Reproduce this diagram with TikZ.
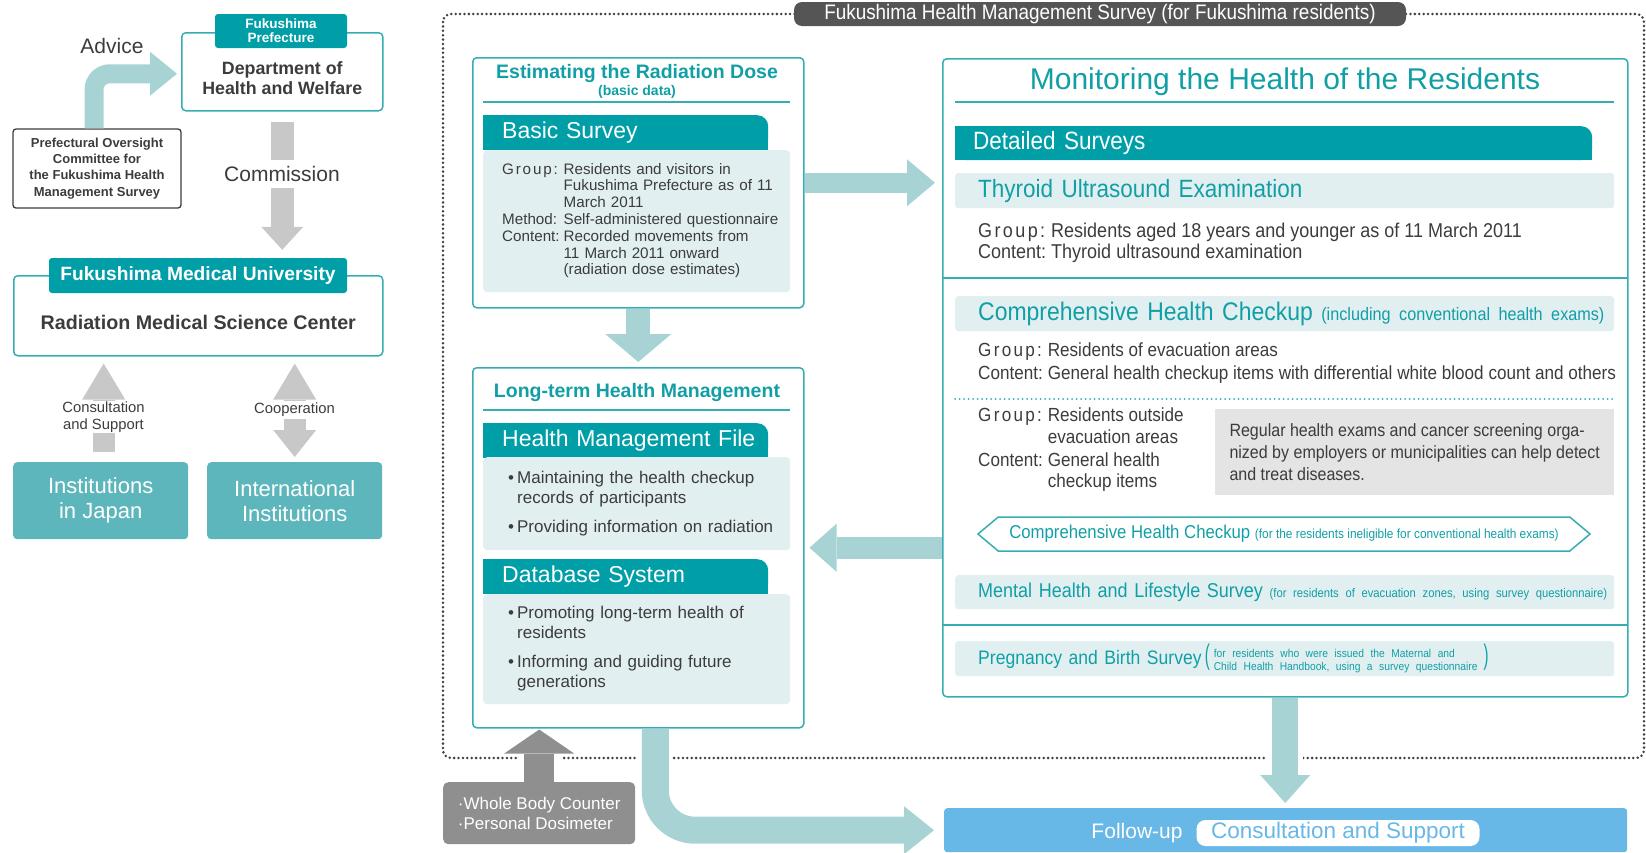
\documentclass[tikz,border=0pt]{standalone}
\usepackage{fontspec}
\usepackage{graphicx}
\setmainfont{Liberation Sans}
\newfontfamily\condfont[FakeStretch=0.9]{Liberation Sans}
\usetikzlibrary{arrows.meta,calc,positioning,shapes.symbols}

\definecolor{tealdark}{HTML}{009FA7}
\definecolor{tealtext}{HTML}{119FA6}
\definecolor{tealline}{HTML}{36ADB3}
\definecolor{teallight}{HTML}{E2EFF1}
\definecolor{tealarrow}{HTML}{A8D3D5}
\definecolor{instfill}{HTML}{5DB6BB}
\definecolor{graylight}{HTML}{C8C8C8}
\definecolor{graydark}{HTML}{8F8F8F}
\definecolor{grayinfo}{HTML}{E4E4E4}
\definecolor{pillgray}{HTML}{555555}
\definecolor{dotgray}{HTML}{404040}
\definecolor{fublue}{HTML}{68B8E7}
\definecolor{textgray}{HTML}{3C3C3C}

\newcommand\fsz[2]{\fontsize{#1pt}{#2pt}\selectfont}
\newcommand\grp{{\addfontfeature{LetterSpace=12}Group:}}
\newcommand\sqcorners[1]{%
  \fill[tealdark] (#1.north west) rectangle ++(11,11);
  \fill[tealdark] (#1.south west) rectangle ++(11,-11);
  \fill[tealdark] (#1.south east) rectangle ++(-11,-11);}

\tikzset{
  frame/.style={draw=tealline, line width=1.5pt, rounded corners=4pt, anchor=north west},
  pilltab/.style={fill=tealdark, rounded corners=3pt, text=white, align=center, inner sep=0pt},
  tabnode/.style={fill=tealdark, rounded corners=11pt, anchor=north west, text=white, align=left,
    inner ysep=0pt, inner xsep=19pt, minimum height=35pt, font=\fsz{23}{26}},
  lightbox/.style={fill=teallight, rounded corners=4pt, anchor=north west, align=left,
    inner xsep=19pt, inner ysep=0pt, text=textgray},
  bar/.style={fill=teallight, rounded corners=3pt, anchor=north west, align=left, inner xsep=23pt,
    inner ysep=0pt, minimum height=35pt, text width=613pt, text=tealtext, font=\condfont\fsz{25}{28}},
  body/.style={anchor=west, inner sep=0pt, text=textgray, font=\condfont\fsz{19}{21}},
  instbox/.style={fill=instfill, rounded corners=4pt, anchor=north west, minimum width=175pt,
    minimum height=77pt, text=white, align=center, font=\fsz{22}{25}},
  softarrow/.style={draw=tealarrow},
  grayarrow/.style={draw=graylight},
  darkarrow/.style={draw=graydark}
}

\begin{document}
\begin{tikzpicture}[x=1pt,y=-1pt]
\useasboundingbox (0,0) rectangle (1646,852);

% survey frame
\draw[dotgray, line width=2.8pt, dash pattern=on 0pt off 4.4pt, line cap=round, rounded corners=8pt] (443,14) rectangle (1644,758);
\node[fill=pillgray, rounded corners=8pt, text=white, font=\condfont\fsz{21}{24}, minimum width=612pt, minimum height=24pt, inner sep=0pt] (fhms) at (1100,14) {Fukushima Health Management Survey (for Fukushima residents)};

% left column
\node[frame, minimum width=201pt, minimum height=78pt] (dept) at (181,32) {};
\node[pilltab, minimum width=132pt, minimum height=34pt, font=\bfseries\fsz{13.5}{14}] (pref) at (281,31) {Fukushima\\Prefecture};
\node[font=\bfseries\fsz{17.8}{20}, text=textgray, align=center] (depttxt) at ($(dept.center)+(0,6)$) {Department of\\Health and Welfare};
\node[draw=textgray, line width=1.3pt, rounded corners=3pt, minimum width=168pt, minimum height=79pt, align=center, font=\bfseries\fsz{13}{16.3}, text=textgray, inner sep=0pt] (comm) at (97,168.5) {Prefectural Oversight\\Committee for\\the Fukushima Health\\Management Survey};
\node[font=\fsz{21}{24}, text=textgray] (advice) at (112,46) {Advice};

\node[frame, minimum width=369pt, minimum height=80pt] (uni) at (13,275) {};
\node[pilltab, minimum width=298pt, minimum height=35pt, font=\bfseries\fsz{19.2}{22}] (unitab) at (198,275.5) {Fukushima Medical University};
\node[font=\bfseries\fsz{19.7}{22}, text=textgray] (rmsc) at ($(uni.center)+(0,7)$) {Radiation Medical Science Center};

\node[instbox] (japan) at (13,462) {Institutions\\in Japan};
\node[instbox] (intl) at (207,462) {International\\Institutions};

\draw[softarrow, line width=19pt, rounded corners=16pt, -{Triangle[length=27pt,width=44pt,line width=0pt]}] ($(comm.north)+(-3,0)$) |- ($(dept.west)+(-4,2)$);
\draw[grayarrow, line width=23pt, shorten <=10pt, shorten >=8pt, -{Triangle[length=23pt,width=42pt,line width=0pt]}] (dept.south) -- (dept.south |- unitab.north);
\node[fill=white, inner xsep=2pt, inner ysep=0pt, minimum height=28pt, font=\fsz{21}{24}, text=textgray] (commission) at (282,174) {Commission};

\draw[grayarrow, line width=22pt, shorten <=10pt, shorten >=7pt, -{Triangle[length=36pt,width=43pt,line width=0pt]}] ($(japan.north)+(3,0)$) -- ($(japan.north |- uni.south)+(3,0)$);
\node[fill=white, inner sep=1pt, align=center, font=\fsz{14.8}{17}, text=textgray] (consult) at (103.5,417) {Consultation\\and Support};
\draw[grayarrow, line width=22pt, shorten <=7pt, shorten >=5pt, {Triangle[length=36pt,width=43pt,line width=0pt]}-{Triangle[length=27pt,width=43pt,line width=0pt]}] (intl.north |- uni.south) -- (intl.north);
\node[fill=white, inner xsep=1pt, inner ysep=2pt, font=\fsz{14.8}{17}, text=textgray] (coop) at (294.5,410) {Cooperation};

% estimating the dose
\node[frame, minimum width=331pt, minimum height=250pt] (est) at (472,57) {};
\node[font=\bfseries\fsz{19.5}{22}, text=tealtext] (esttitle) at (637,73) {Estimating the Radiation Dose};
\node[font=\bfseries\fsz{14}{16}, text=tealtext] (estsub) at (637,92) {(basic data)};
\draw[tealline, line width=1.5pt] (483,102) -- (790,102);
\node[tabnode, text width=247pt] (basic) at (483,115) {\mbox{Basic Survey}};
\sqcorners{basic}
\node[lightbox, minimum height=142pt, text width=269pt, font=\fsz{15.2}{16.8}] (basicbody) at (483,150) {%
  \begin{tabular}{@{}l@{\hspace{4pt}}l@{}}
  \grp & Residents and visitors in\\
       & Fukushima Prefecture as of 11\\
       & March 2011\\
  Method: & Self-administered questionnaire\\
  Content: & Recorded movements from\\
       & 11 March 2011 onward\\
       & (radiation dose estimates)
  \end{tabular}};

% long-term management
\node[frame, minimum width=331pt, minimum height=360pt] (lt) at (472,367) {};
\node[font=\bfseries\fsz{19.5}{22}, text=tealtext] (lttitle) at (637,392) {Long-term Health Management};
\draw[tealline, line width=1.5pt] (483,410) -- (790,410);
\node[tabnode, text width=247pt] (hmf) at (483,423) {\mbox{Health Management File}};
\sqcorners{hmf}
\node[lightbox, inner xsep=25pt, minimum height=93pt, text width=257pt, font=\fsz{17}{20}] (hmfbody) at (483,457) {%
  \begin{tabular}{@{}l@{\hspace{3pt}}l@{}}
  \textbullet & Maintaining the health checkup\\
              & records of participants\\[9pt]
  \textbullet & Providing information on radiation
  \end{tabular}};
\node[tabnode, text width=247pt] (dbs) at (483,559) {\mbox{Database System}};
\sqcorners{dbs}
\node[lightbox, inner xsep=25pt, minimum height=110pt, text width=257pt, font=\fsz{17}{20}] (dbsbody) at (483,594) {%
  \begin{tabular}{@{}l@{\hspace{3pt}}l@{}}
  \textbullet & Promoting long-term health of\\
              & residents\\[9pt]
  \textbullet & Informing and guiding future\\
              & generations
  \end{tabular}};

% monitoring the residents
\node[frame, minimum width=685pt, minimum height=638pt] (mon) at (942,58) {};
\node[font=\fsz{30}{34}, text=tealtext] (montitle) at (1285,82) {Monitoring the Health of the Residents};
\draw[tealline, line width=1.5pt] (955,102) -- (1614,102);
\node[tabnode, text width=601pt, inner xsep=18pt, minimum height=34pt, font=\condfont\fsz{25}{28}] (detailed) at (955,126) {\mbox{Detailed Surveys}};
\sqcorners{detailed}
\node[bar] (thyroid) at (955,173) {\mbox{Thyroid Ultrasound Examination}};
\node[body, font=\condfont\fsz{20}{21}] (thyroidbody) at (978,243.5) {%
  \begin{tabular}{@{}l@{\hspace{5pt}}l@{}}
  \grp & Residents aged 18 years and younger as of 11 March 2011\\
  Content: & Thyroid ultrasound examination
  \end{tabular}};
\draw[tealline, line width=1.5pt] (942,278) -- (1627,278);
\node[bar, font=\condfont\fsz{25.5}{28}] (comp) at (955,296) {\mbox{Comprehensive Health Checkup {\fsz{18}{20}(including conventional health exams)}}};
\node[body, font=\condfont\fsz{19}{23}] (compbody) at (978,363.5) {%
  \begin{tabular}{@{}l@{\hspace{5pt}}l@{}}
  \grp & Residents of evacuation areas\\
  Content: & General health checkup items with differential white blood count and others
  \end{tabular}};
\draw[tealline, line width=2pt, dash pattern=on 0pt off 4.5pt, line cap=round] (955,399) -- (1614,399);
\node[body, font=\condfont\fsz{19}{21.5}] (outsidebody) at (978,450.5) {%
  \begin{tabular}{@{}l@{\hspace{5pt}}l@{}}
  \grp & Residents outside\\
       & evacuation areas\\[1.5pt]
  Content: & General health\\
       & checkup items
  \end{tabular}};
\node[fill=grayinfo, anchor=north west, minimum width=399pt, minimum height=86pt, inner sep=0pt, align=left, text=textgray, font=\condfont\fsz{17.8}{22}] (employer) at (1215,409) {Regular health exams and cancer screening orga-\\nized by employers or municipalities can help detect\\and treat diseases.};
\node[signal, signal to=west and east, signal pointer angle=80, draw=tealline, line width=1.5pt, minimum width=612pt, minimum height=34pt, inner sep=0pt, text=tealtext, font=\condfont\fsz{18.6}{20}] (hexnote) at (1284,534) {Comprehensive Health Checkup {\fsz{13.2}{14}(for the residents ineligible for conventional health exams)}};
\node[bar, minimum height=34pt, font=\condfont\fsz{20}{22}] (mental) at (955,575) {\mbox{Mental Health and Lifestyle Survey {\fsz{12.5}{15}(for residents of evacuation zones, using survey questionnaire)}}};
\draw[tealline, line width=1.5pt] (942,625) -- (1627,625);
\node[bar, font=\condfont\fsz{19.5}{22}] (pregnancy) at (955,641) {\mbox{Pregnancy and Birth Survey\,\scalebox{0.85}[1.45]{(}\hspace{4pt}{\fsz{11.4}{12.5}\begin{tabular}{@{}l@{}}for residents who were issued the Maternal and\\Child Health Handbook, using a survey questionnaire\end{tabular}}\hspace{6pt}\scalebox{0.85}[1.45]{)}}};

% follow-up
\node[fill=fublue, rounded corners=3pt, anchor=north west, minimum width=683pt, minimum height=44pt] (fu) at (944,808) {};
\node[font=\fsz{21}{23}, text=white] (futxt) at (1137,833) {Follow-up};
\node[fill=white, rounded corners=9pt, minimum width=283pt, minimum height=26pt, inner sep=0pt, text=fublue, font=\fsz{22.5}{25}] (fupill) at (1338,833) {Consultation and Support};

\node[fill=graydark, rounded corners=5pt, anchor=north west, minimum width=192pt, minimum height=62pt, text=white, align=left, font=\fsz{17}{20}] (wbc) at (443,782) {·Whole Body Counter\\·Personal Dosimeter};

% gaps in the dotted frame
\fill[white] (519,752) rectangle (563,764);
\fill[white] (636,752) rectangle (672,764);
\fill[white] (1266,752) rectangle (1303,764);

\draw[softarrow, line width=20pt, shorten >=7pt, -{Triangle[length=28pt,width=47pt,line width=0pt]}] (est.east) -- (est.east -| mon.west);
\draw[softarrow, line width=22pt, shorten >=5pt, -{Triangle[length=27pt,width=48pt,line width=0pt]}] (lt.east -| mon.west) -- (lt.east);
\draw[softarrow, line width=24pt, shorten >=5pt, -{Triangle[length=28pt,width=66pt,line width=0pt]}] (est.south) -- (lt.north);
\draw[darkarrow, line width=30pt, shorten >=1pt, -{Triangle[length=24pt,width=70pt,line width=0pt]}] (wbc.north) -- (wbc.north |- lt.south);
\draw[softarrow, line width=27pt, rounded corners=40pt, shorten >=10pt, -{Triangle[length=30pt,width=48pt,line width=0pt]}] ($(lt.south)+(17,0)$) |- (fu.west);
\draw[softarrow, line width=26pt, shorten >=5pt, -{Triangle[length=28pt,width=50pt,line width=0pt]}] (mon.south) -- (mon.south |- fu.north);

\end{tikzpicture}
\end{document}
